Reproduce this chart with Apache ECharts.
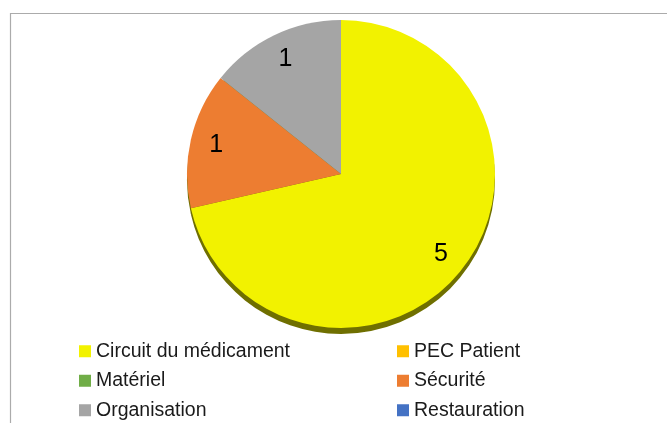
<!DOCTYPE html>
<html>
<head>
<meta charset="utf-8">
<script src="https://cdn.jsdelivr.net/npm/echarts@6/dist/echarts.min.js"></script>
<style>
html,body{margin:0;padding:0;background:#fff;}
#chart{width:667px;height:423px;}
</style>
</head>
<body>
<div id="chart"></div>
<script>
const categories = ['Circuit du médicament', 'PEC Patient', 'Matériel', 'Sécurité', 'Organisation', 'Restauration'];
const values = [5, 0, 0, 1, 1, 0];
const colors = ['#F2F200', '#FFC000', '#70AD47', '#ED7D31', '#A5A5A5', '#4472C4'];
const leftLegend = ['Circuit du médicament', 'Matériel', 'Organisation'];
const rightLegend = ['PEC Patient', 'Sécurité', 'Restauration'];

const chart = echarts.init(document.getElementById('chart'));
const center = [341, 174];
const R = 154;
const pieData = categories.map((c, i) => ({ name: c, value: values[i], itemStyle: { color: colors[i] } }));
const plainData = categories.map((c, i) => ({ name: c, value: values[i] }));
const legendItem = n => ({ name: n, itemStyle: { color: colors[categories.indexOf(n)] } });
const legendCommon = {
  orient: 'vertical', top: 341, height: 110, icon: 'rect', itemWidth: 12, itemHeight: 12, itemGap: 9,
  padding: 0, selectedMode: false,
  textStyle: { fontFamily: 'Liberation Sans', fontSize: 19.5, color: '#1a1a1a', lineHeight: 20.5 }
};
chart.setOption({
  animation: false,
  graphic: [{
    type: 'rect', z: 0, silent: true,
    shape: { x: 10.5, y: 13.5, width: 700, height: 450 },
    style: { fill: 'none', stroke: '#ababab', lineWidth: 1.2 }
  }],
  legend: [
    Object.assign({ left: 79, width: 260, data: leftLegend.map(legendItem) }, legendCommon),
    Object.assign({ left: 397, width: 240, data: rightLegend.map(legendItem) }, legendCommon)
  ],
  series: [
    {
      type: 'pie', z: 3, center: center, radius: [0, R], startAngle: 90, clockwise: true,
      data: pieData, label: { show: false }, labelLine: { show: false },
      emphasis: { disabled: true }, silent: true
    },
    {
      type: 'pie', z: 2, center: [center[0], center[1] + 6], radius: [0, R], startAngle: 90,
      data: plainData, itemStyle: { color: '#6f6f00' }, label: { show: false }, labelLine: { show: false },
      emphasis: { disabled: true }, silent: true
    },
    {
      type: 'pie', z: 4, center: center, radius: [0, 250], startAngle: 90,
      data: plainData, itemStyle: { color: 'rgba(0,0,0,0)' },
      label: {
        show: true, position: 'inside', fontFamily: 'Liberation Sans', fontSize: 25, color: '#000',
        formatter: p => (p.value ? String(p.value) : '')
      },
      labelLine: { show: false }, emphasis: { disabled: true }, silent: true
    }
  ]
});
</script>
</body>
</html>
